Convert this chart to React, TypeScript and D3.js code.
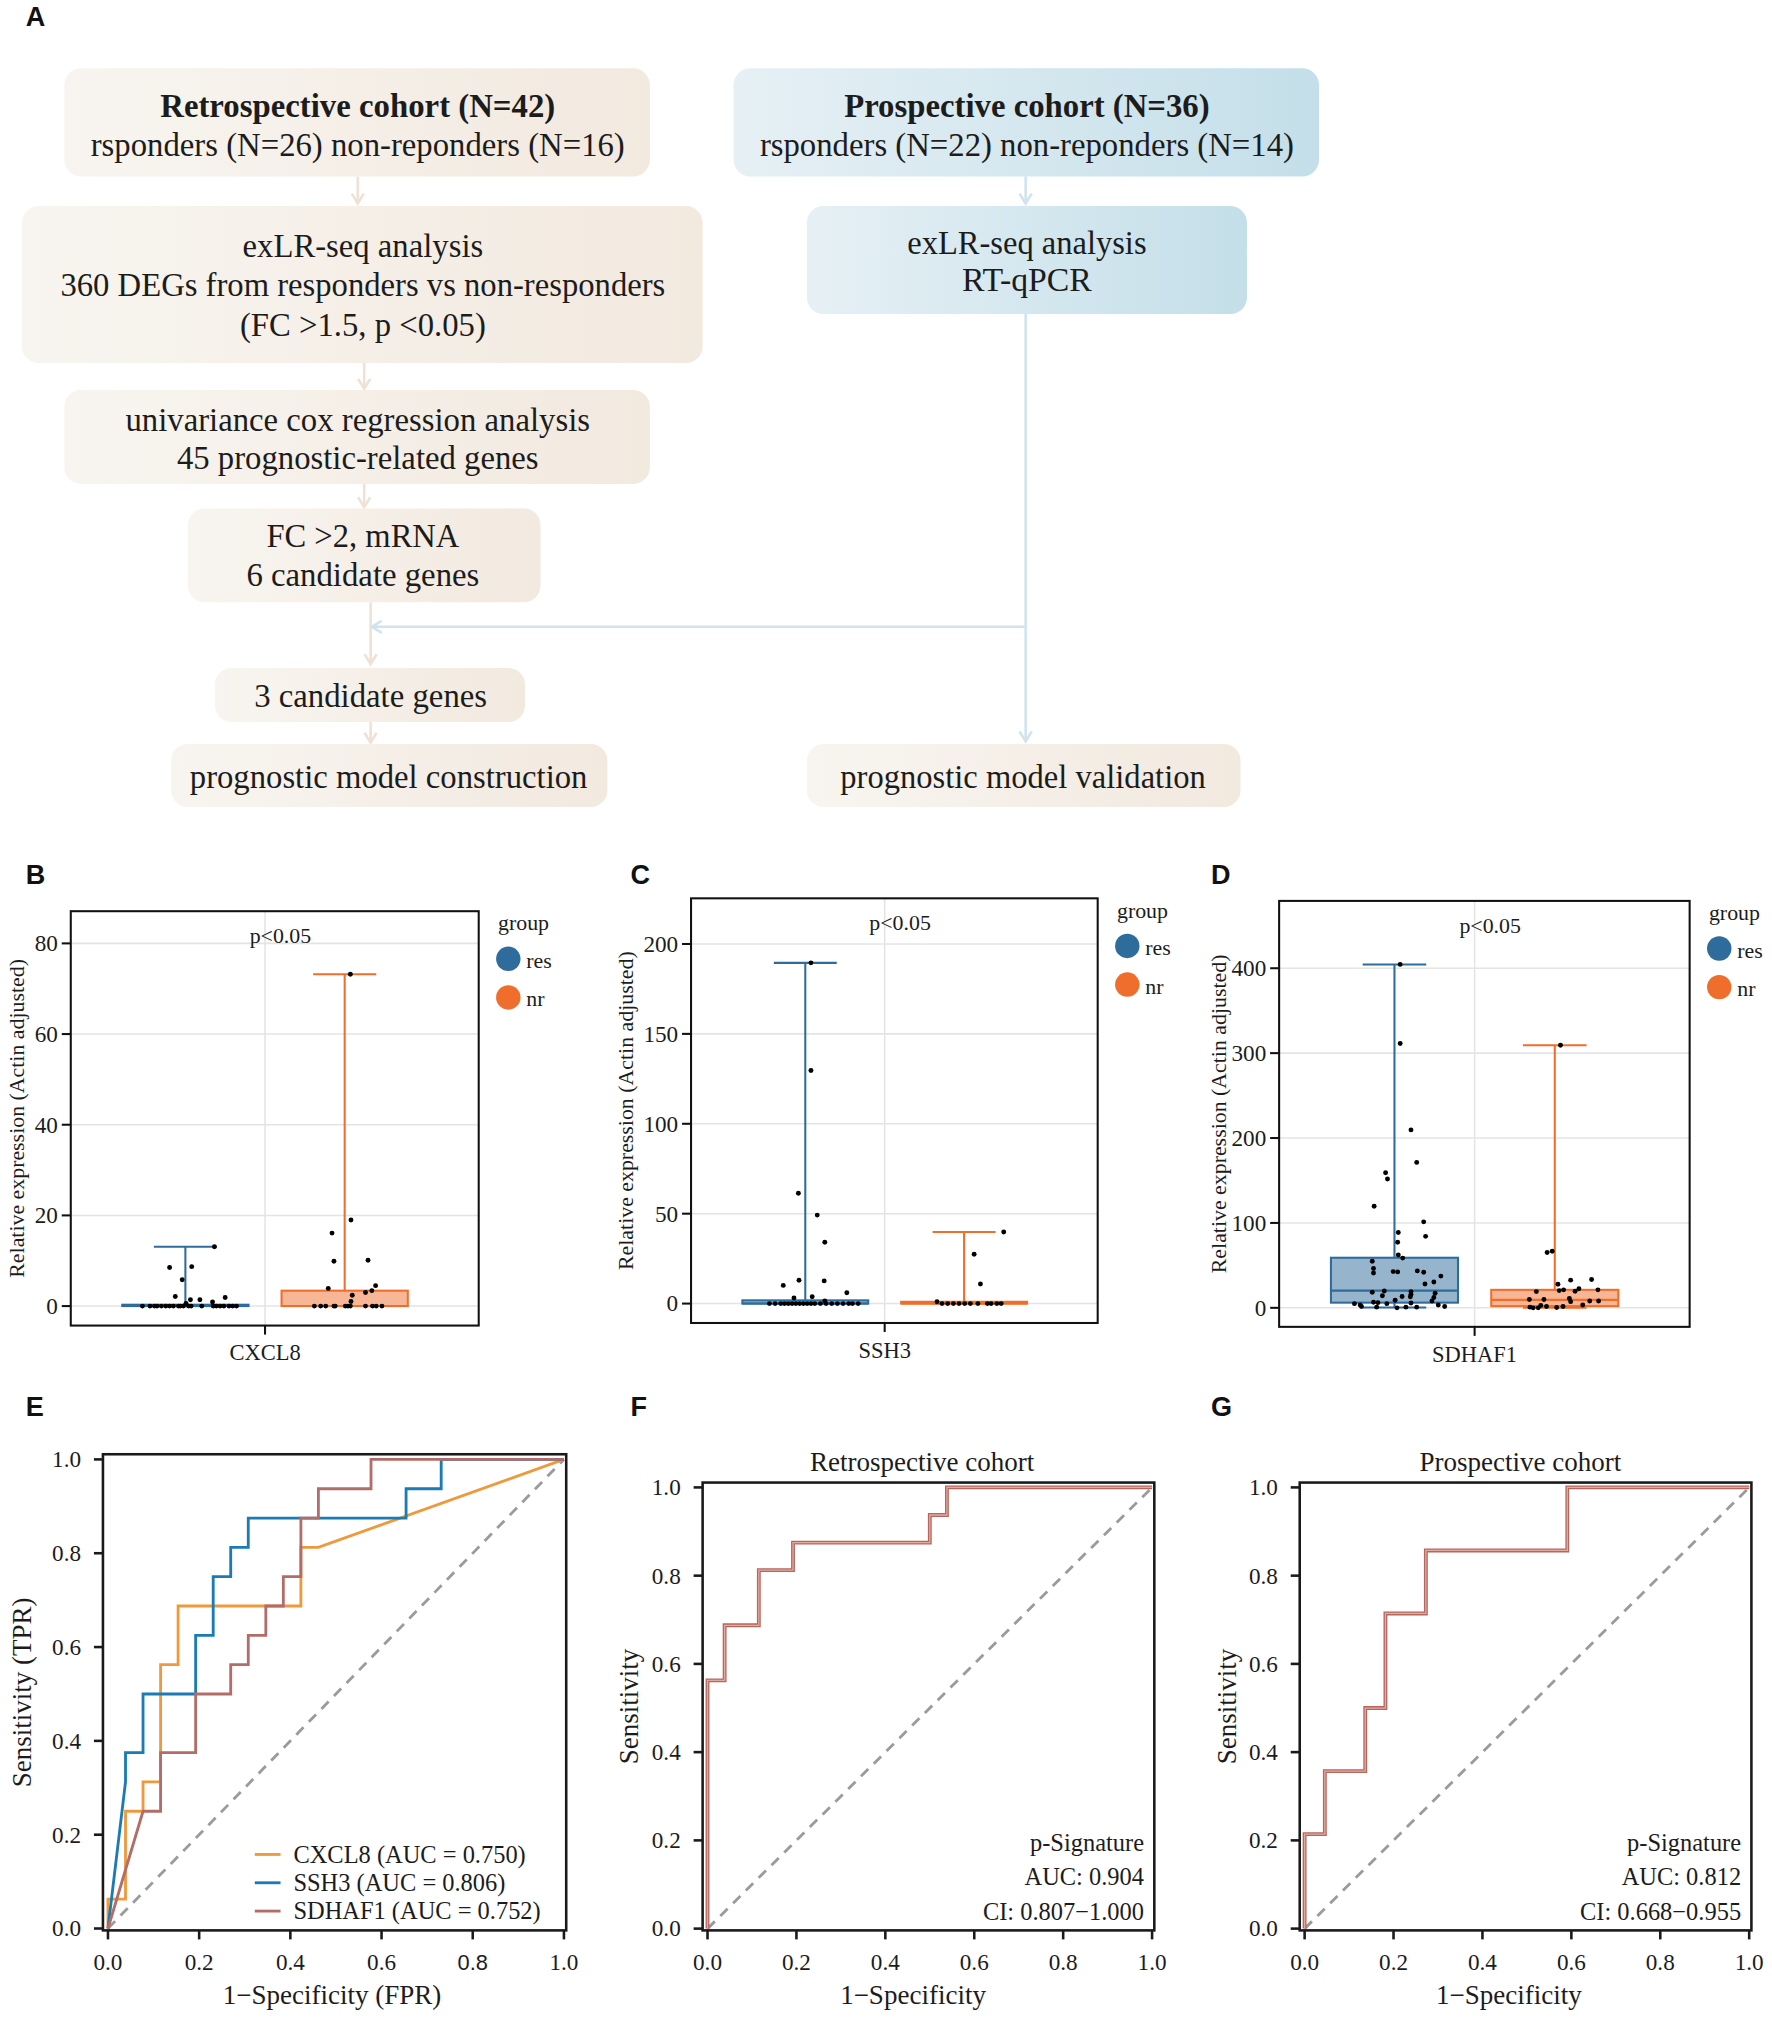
import { useEffect, useRef } from 'react';
import * as d3 from 'd3';

// ---------- panel A: flowchart ----------
type FlowLine = { text: string; bold?: boolean; width: number; base: number };
type FlowNode = { x: number; y: number; w: number; h: number; tone: 'beige' | 'blue'; cx: number; lines: FlowLine[] };

const flowNodes: FlowNode[] = [
  { x: 50, y: 53, w: 455, h: 84, tone: 'beige', cx: 278, lines: [
    { text: 'Retrospective cohort (N=42)', bold: true, width: 307, base: 91 },
    { text: 'rsponders (N=26) non-reponders (N=16)', width: 415, base: 121 }] },
  { x: 570, y: 53, w: 455, h: 84, tone: 'blue', cx: 798, lines: [
    { text: 'Prospective cohort (N=36)', bold: true, width: 284, base: 91 },
    { text: 'rsponders (N=22) non-reponders (N=14)', width: 415, base: 121 }] },
  { x: 17, y: 160, w: 529, h: 122, tone: 'beige', cx: 282, lines: [
    { text: 'exLR-seq analysis', width: 187, base: 200 },
    { text: '360 DEGs from responders vs non-responders', width: 470, base: 230 },
    { text: '(FC >1.5, p <0.05)', width: 191, base: 261 }] },
  { x: 627, y: 160, w: 342, h: 84, tone: 'blue', cx: 798, lines: [
    { text: 'exLR-seq analysis', width: 186, base: 197 },
    { text: 'RT-qPCR', width: 101, base: 226 }] },
  { x: 50, y: 303, w: 455, h: 73, tone: 'beige', cx: 278, lines: [
    { text: 'univariance cox regression analysis', width: 361, base: 335 },
    { text: '45 prognostic-related genes', width: 281, base: 364 }] },
  { x: 146, y: 395, w: 274, h: 73, tone: 'beige', cx: 282, lines: [
    { text: 'FC >2, mRNA', width: 150, base: 425 },
    { text: '6 candidate genes', width: 181, base: 455 }] },
  { x: 167, y: 519, w: 241, h: 42, tone: 'beige', cx: 288, lines: [
    { text: '3 candidate genes', width: 181, base: 549 }] },
  { x: 133, y: 578, w: 339, h: 49, tone: 'beige', cx: 302, lines: [
    { text: 'prognostic model construction', width: 309, base: 612 }] },
  { x: 627, y: 578, w: 337, h: 49, tone: 'beige', cx: 795, lines: [
    { text: 'prognostic model validation', width: 284, base: 612 }] },
];

// arrows: [x1, y1, x2, y2, tone]
const flowArrows: [number, number, number, number, 'beige' | 'blue'][] = [
  [278, 137, 278, 158, 'beige'],
  [797, 137, 797, 158, 'blue'],
  [283, 282, 283, 302, 'beige'],
  [283, 376, 283, 394, 'beige'],
  [288, 468, 288, 516, 'beige'],
  [288, 561, 288, 577, 'beige'],
  [797, 244, 797, 576, 'blue'],
  [797, 487, 289, 487, 'blue'],
];

// ---------- panels B-D: box plots ----------
const groups = ['res', 'nr'];
const groupColors = ['#2e6c9c', '#ef6e2b'];

// stats: [lower, q1, median, q3, upper]
const cxcl8Stats = [[0, 0, 0, 0.3, 13.1], [0, 0, 0, 3.4, 73.2]];
const ssh3Stats = [[0, 0, 0, 1.8, 189.5], [0, 0, 0, 1.0, 39.8]];
const sdhaf1Stats = [[0.5, 6.1, 20.3, 59.0, 404.5], [0, 2.0, 9.4, 21.2, 309.3]];

// points: [jitter (fraction of half box width), value]
const cxcl8Res = [
  [0.46, 13.1], [-0.25, 8.5], [0.1, 8.7], [-0.05, 5.8], [-0.16, 2.1], [0.08, 1.4], [0.23, 1.4], [0.43, 0.9], [0.63, 1.9], [0.01, 0.6],
  [-0.68, 0], [-0.56, 0], [-0.49, 0], [-0.45, 0], [-0.38, 0], [-0.31, 0], [-0.25, 0], [-0.19, 0], [-0.11, 0], [-0.08, 0], [-0.03, 0],
  [0.05, 0], [0.09, 0], [0.26, 0], [0.44, 0], [0.49, 0], [0.55, 0], [0.61, 0], [0.69, 0], [0.75, 0], [0.81, 0]];
const cxcl8Nr = [
  [0.09, 73.2], [0.1, 19.0], [-0.2, 16.1], [-0.17, 9.9], [0.37, 10.1], [-0.26, 3.9], [0.49, 4.5], [0.43, 3.4], [0.33, 3.0], [0.12, 2.4], [0.1, 1.0],
  [-0.48, 0], [-0.38, 0], [-0.3, 0], [-0.17, 0], [-0.15, 0], [0.01, 0], [0.05, 0], [0.09, 0], [0.33, 0], [0.44, 0], [0.5, 0], [0.59, 0]];
const ssh3Res = [
  [0.09, 189.5], [0.09, 129.6], [-0.11, 61.4], [0.19, 49.2], [0.31, 34.1], [-0.35, 10.1], [-0.1, 13.0], [0.3, 12.6], [0.66, 6.0],
  [-0.18, 3.1], [0.11, 3.8], [0.31, 1.5],
  [-0.57, 0], [-0.48, 0], [-0.39, 0], [-0.33, 0], [-0.27, 0], [-0.21, 0], [-0.15, 0], [-0.09, 0], [-0.03, 0], [0.03, 0],
  [0.09, 0], [0.15, 0], [0.24, 0], [0.33, 0], [0.42, 0], [0.51, 0], [0.6, 0], [0.69, 0], [0.75, 0], [0.84, 0]];
const ssh3Nr = [
  [0.63, 39.8], [0.16, 27.4], [0.26, 10.9], [-0.43, 1.0],
  [-0.35, 0], [-0.26, 0], [-0.17, 0], [-0.08, 0], [0.01, 0], [0.1, 0], [0.22, 0], [0.37, 0], [0.43, 0], [0.52, 0], [0.59, 0]];
const sdhaf1Res = [
  [0.09, 404.5], [0.09, 311.3], [0.26, 209.6], [0.35, 171.3], [-0.14, 159.1], [-0.11, 151.8], [-0.32, 119.6], [0.46, 101.3],
  [0.06, 88.7], [0.49, 84.2], [0.05, 77.3], [0.06, 62.3], [0.13, 58.6], [-0.35, 54.9], [-0.33, 46.4], [-0.33, 41.1], [-0.02, 42.7],
  [0.05, 42.3], [0.36, 43.5], [0.46, 41.9], [0.73, 37.4], [0.62, 30.5], [0.48, 28.1], [-0.35, 18.3], [-0.16, 19.9], [-0.19, 14.2],
  [0.12, 13.4], [0.26, 19.1], [0.26, 15.9], [0.25, 13.0], [0.64, 17.1], [0.62, 12.2], [0.59, 8.1], [-0.33, 6.5], [-0.26, 6.1],
  [0.01, 9.0], [0.26, 5.7], [-0.12, 4.9], [-0.63, 4.9], [-0.54, 3.3], [-0.52, 1.6], [-0.28, 0.8], [0.04, 0], [0.18, 0.8],
  [0.35, 0.8], [0.69, 3.3], [0.79, 1.6]];
const sdhaf1Nr = [
  [0.09, 309.3], [-0.04, 66.7], [-0.12, 65.1], [0.05, 27.7], [0.25, 32.6], [0.58, 33.4], [0.14, 21.2], [0.07, 20.3], [0.38, 22.4],
  [0.32, 19.5], [0.68, 21.2], [-0.29, 19.1], [-0.4, 9.8], [-0.17, 9.8], [0.23, 11.0], [0.25, 7.3], [0.55, 8.1], [0.69, 8.1],
  [0.44, 3.3], [-0.22, 2.8], [-0.13, 1.6], [-0.39, 0.8], [-0.34, 0], [-0.26, 0], [0.03, 0.4], [0.13, 1.6]];

const cxcl8Ticks = [0, 20, 40, 60, 80];
const ssh3Ticks = [0, 50, 100, 150, 200];
const sdhaf1Ticks = [0, 100, 200, 300, 400];

const boxPanels = [
  { letter: 'B', letterX: 20, gene: 'CXCL8', frame: [55, 708, 372, 1030], domain: [-4.3, 87.1], ticks: cxcl8Ticks, stats: cxcl8Stats, points: [cxcl8Res, cxcl8Nr], titleOff: 42 },
  { letter: 'C', letterX: 490, gene: 'SSH3', frame: [537, 698, 853, 1028], domain: [-10.8, 225.4], ticks: ssh3Ticks, stats: ssh3Stats, points: [ssh3Res, ssh3Nr], titleOff: 51 },
  { letter: 'D', letterX: 941, gene: 'SDHAF1', frame: [994, 700, 1313, 1031], domain: [-22.4, 479.3], ticks: sdhaf1Ticks, stats: sdhaf1Stats, points: [sdhaf1Res, sdhaf1Nr], titleOff: 47 },
];

// ---------- panels E-G: ROC curves ----------
const rocTicks = [0, 0.2, 0.4, 0.6, 0.8, 1.0];
const cxcl8Roc = [[0, 0], [0, 0.0625], [0.0385, 0.0625], [0.0385, 0.25], [0.0769, 0.25], [0.0769, 0.3125], [0.1154, 0.3125], [0.1154, 0.5625],
  [0.1538, 0.5625], [0.1538, 0.6875], [0.4231, 0.6875], [0.4231, 0.8125], [0.4615, 0.8125], [1, 1]];
const ssh3Roc = [[0, 0], [0.0385, 0.3125], [0.0385, 0.375], [0.0769, 0.375], [0.0769, 0.5], [0.1923, 0.5], [0.1923, 0.625], [0.2308, 0.625],
  [0.2308, 0.75], [0.2692, 0.75], [0.2692, 0.8125], [0.3077, 0.8125], [0.3077, 0.875], [0.6538, 0.875], [0.6538, 0.9375], [0.7308, 0.9375],
  [0.7308, 1], [1, 1]];
const sdhaf1Roc = [[0, 0], [0.0769, 0.25], [0.1154, 0.25], [0.1154, 0.375], [0.1923, 0.375], [0.1923, 0.5], [0.2692, 0.5], [0.2692, 0.5625],
  [0.3077, 0.5625], [0.3077, 0.625], [0.3462, 0.625], [0.3462, 0.6875], [0.3846, 0.6875], [0.3846, 0.75], [0.4231, 0.75], [0.4231, 0.875],
  [0.4615, 0.875], [0.4615, 0.9375], [0.5769, 0.9375], [0.5769, 1], [1, 1]];
const retroRoc = [[0, 0], [0, 0.5625], [0.0385, 0.5625], [0.0385, 0.6875], [0.1154, 0.6875], [0.1154, 0.8125], [0.1923, 0.8125], [0.1923, 0.875],
  [0.5, 0.875], [0.5, 0.9375], [0.5385, 0.9375], [0.5385, 1], [1, 1]];
const prospRoc = [[0, 0], [0, 0.2143], [0.0455, 0.2143], [0.0455, 0.3571], [0.1364, 0.3571], [0.1364, 0.5], [0.1818, 0.5], [0.1818, 0.7143],
  [0.2727, 0.7143], [0.2727, 0.8571], [0.5909, 0.8571], [0.5909, 1], [1, 1]];

const geneLegend = ['CXCL8 (AUC = 0.750)', 'SSH3 (AUC = 0.806)', 'SDHAF1 (AUC = 0.752)'];
const geneRocColors = ['#ee9a3c', '#1b7bb5', '#b36d68'];

const rocPanels = [
  { letter: 'E', letterX: 20, frame: [80, 1130, 440, 1500], curves: [cxcl8Roc, ssh3Roc, sdhaf1Roc], colors: geneRocColors, title: '',
    yTitle: 'Sensitivity (TPR)', xTitle: '1\u2212Specificity (FPR)', legend: geneLegend, notes: [] as string[], sansTick: 0.8,
    double: false, yTitleOff: 63, xTitleShift: -2, titleShift: 0 },
  { letter: 'F', letterX: 490, frame: [546, 1152, 897, 1500], curves: [retroRoc], colors: ['#b5675e'], title: 'Retrospective cohort',
    yTitle: 'Sensitivity', xTitle: '1\u2212Specificity', legend: [] as string[], notes: ['p-Signature', 'AUC: 0.904', 'CI: 0.807\u22121.000'],
    sansTick: -1, double: true, yTitleOff: 57, xTitleShift: -12, titleShift: -5 },
  { letter: 'G', letterX: 941, frame: [1010, 1152, 1361, 1500], curves: [prospRoc], colors: ['#b5675e'], title: 'Prospective cohort',
    yTitle: 'Sensitivity', xTitle: '1\u2212Specificity', legend: [] as string[], notes: ['p-Signature', 'AUC: 0.812', 'CI: 0.668\u22120.955'],
    sansTick: -1, double: true, yTitleOff: 57, xTitleShift: -13, titleShift: -4 },
];

const SERIF = '"Liberation Serif", "Times New Roman", serif';
const SANS = '"Liberation Sans", Arial, sans-serif';
const INK = '#1c1c1c';

type Svg = d3.Selection<SVGSVGElement, unknown, null, undefined>;

function drawFlow(svg: Svg) {
  const defs = svg.append('defs');
  const beige = defs.append('linearGradient').attr('id', 'gBeige').attr('x1', '0').attr('x2', '1').attr('y1', '0').attr('y2', '0');
  beige.append('stop').attr('offset', '0%').attr('stop-color', '#f8f5f0');
  beige.append('stop').attr('offset', '100%').attr('stop-color', '#f2e9df');
  const blue = defs.append('linearGradient').attr('id', 'gBlue').attr('x1', '0').attr('x2', '1').attr('y1', '0').attr('y2', '0');
  blue.append('stop').attr('offset', '0%').attr('stop-color', '#e6f0f5');
  blue.append('stop').attr('offset', '100%').attr('stop-color', '#c4dfe9');

  const g = svg.append('g');
  g.append('text').attr('x', 20).attr('y', 20).attr('font-family', SANS).attr('font-weight', 'bold')
    .attr('font-size', 21).attr('fill', '#111').text('A');

  const lineColor = { beige: '#efe1d4', blue: '#cfe4ee' };
  flowArrows.forEach(([x1, y1, x2, y2, tone]) => {
    g.append('line').attr('x1', x1).attr('y1', y1).attr('x2', x2).attr('y2', y2)
      .attr('stroke', lineColor[tone]).attr('stroke-width', 2);
    const ang = Math.atan2(y2 - y1, x2 - x1);
    const L = 9, W = 0.55;
    const p1 = [x2 - L * Math.cos(ang - W), y2 - L * Math.sin(ang - W)];
    const p2 = [x2 - L * Math.cos(ang + W), y2 - L * Math.sin(ang + W)];
    g.append('path').attr('d', `M${p1[0]},${p1[1]}L${x2},${y2}L${p2[0]},${p2[1]}`)
      .attr('fill', 'none').attr('stroke', lineColor[tone]).attr('stroke-width', 2);
  });

  flowNodes.forEach(n => {
    g.append('rect').attr('x', n.x).attr('y', n.y).attr('width', n.w).attr('height', n.h).attr('rx', 13)
      .attr('fill', n.tone === 'beige' ? 'url(#gBeige)' : 'url(#gBlue)');
    n.lines.forEach(l => {
      g.append('text').attr('x', n.cx).attr('y', l.base).attr('text-anchor', 'middle')
        .attr('font-family', SERIF).attr('font-size', 26).attr('font-weight', l.bold ? 'bold' : 'normal')
        .attr('fill', INK).attr('textLength', l.width).attr('lengthAdjust', 'spacingAndGlyphs').text(l.text);
    });
  });
}

function drawBoxPanel(svg: Svg, p: typeof boxPanels[0]) {
  const [l, t, r, b] = p.frame;
  const x = d3.scaleLinear().domain([-1, 1.1]).range([l, r]);
  const y = d3.scaleLinear().domain(p.domain).range([b, t]);
  const groupPos = [-0.41, 0.41];
  const boxHalf = 0.325;
  const g = svg.append('g');

  g.append('text').attr('x', p.letterX).attr('y', 687).attr('font-family', SANS).attr('font-weight', 'bold')
    .attr('font-size', 21).attr('fill', '#111').text(p.letter);

  // grid
  p.ticks.forEach(v => {
    g.append('line').attr('x1', l).attr('x2', r).attr('y1', y(v)).attr('y2', y(v)).attr('stroke', '#e4e4e4').attr('stroke-width', 1.2);
  });
  g.append('line').attr('x1', x(0)).attr('x2', x(0)).attr('y1', t).attr('y2', b).attr('stroke', '#e4e4e4').attr('stroke-width', 1.2);

  const hw = x(boxHalf) - x(0);
  groups.forEach((_, i) => {
    const [lo, q1, med, q3, hi] = p.stats[i];
    const cx = x(groupPos[i]);
    const col = groupColors[i];
    g.append('line').attr('x1', cx).attr('x2', cx).attr('y1', y(hi)).attr('y2', y(q3)).attr('stroke', col).attr('stroke-width', 1.6);
    g.append('line').attr('x1', cx).attr('x2', cx).attr('y1', y(q1)).attr('y2', y(lo)).attr('stroke', col).attr('stroke-width', 1.6);
    [lo, hi].forEach(v => {
      g.append('line').attr('x1', cx - hw / 2).attr('x2', cx + hw / 2).attr('y1', y(v)).attr('y2', y(v))
        .attr('stroke', col).attr('stroke-width', 1.6);
    });
    g.append('rect').attr('x', cx - hw).attr('width', 2 * hw).attr('y', y(q3)).attr('height', Math.max(0, y(q1) - y(q3)))
      .attr('fill', col).attr('fill-opacity', 0.5).attr('stroke', col).attr('stroke-width', 1.6);
    g.append('line').attr('x1', cx - hw).attr('x2', cx + hw).attr('y1', y(med)).attr('y2', y(med))
      .attr('stroke', col).attr('stroke-width', 1.6);
  });
  groups.forEach((_, i) => {
    const cx = groupPos[i];
    p.points[i].forEach(([j, v]) => {
      g.append('circle').attr('cx', x(cx + j * boxHalf)).attr('cy', y(v)).attr('r', 1.9).attr('fill', '#000');
    });
  });

  // frame
  g.append('rect').attr('x', l).attr('y', t).attr('width', r - l).attr('height', b - t)
    .attr('fill', 'none').attr('stroke', '#111').attr('stroke-width', 1.6);

  // y axis
  p.ticks.forEach(v => {
    g.append('line').attr('x1', l - 7).attr('x2', l).attr('y1', y(v)).attr('y2', y(v)).attr('stroke', '#111').attr('stroke-width', 1.6);
    g.append('text').attr('x', l - 10).attr('y', y(v)).attr('dy', '0.34em').attr('text-anchor', 'end')
      .attr('font-family', SERIF).attr('font-size', 18).attr('fill', INK).text(v);
  });
  // x axis
  g.append('line').attr('x1', x(0)).attr('x2', x(0)).attr('y1', b).attr('y2', b + 7).attr('stroke', '#111').attr('stroke-width', 1.6);
  g.append('text').attr('x', x(0)).attr('y', b + 27).attr('text-anchor', 'middle')
    .attr('font-family', SERIF).attr('font-size', 17.5).attr('fill', INK).text(p.gene);
  g.append('text').attr('transform', `translate(${l - p.titleOff},${(t + b) / 2}) rotate(-90)`).attr('dy', '0.34em')
    .attr('text-anchor', 'middle').attr('font-family', SERIF).attr('font-size', 17).attr('fill', INK)
    .text('Relative expression (Actin adjusted)');
  g.append('text').attr('x', l + 0.514 * (r - l)).attr('y', t + 25).attr('text-anchor', 'middle')
    .attr('font-family', SERIF).attr('font-size', 17).attr('fill', INK).text('p<0.05');

  // legend
  const lx = r + 15;
  g.append('text').attr('x', lx).attr('y', t + 15).attr('font-family', SERIF).attr('font-size', 17).attr('fill', INK).text('group');
  groups.forEach((name, i) => {
    const cy = t + 37 + i * 30;
    g.append('circle').attr('cx', lx + 8).attr('cy', cy).attr('r', 9.5).attr('fill', groupColors[i]);
    g.append('text').attr('x', lx + 22).attr('y', cy + 7).attr('font-family', SERIF).attr('font-size', 17).attr('fill', INK).text(name);
  });
}

function drawRocPanel(svg: Svg, p: typeof rocPanels[0]) {
  const [l, t, r, b] = p.frame;
  const x = d3.scaleLinear().domain([-0.011, 1.005]).range([l, r]);
  const y = d3.scaleLinear().domain([-0.004, 1.011]).range([b, t]);
  const g = svg.append('g');
  const fmt = d3.format('.1f');

  g.append('text').attr('x', p.letterX).attr('y', 1100).attr('font-family', SANS).attr('font-weight', 'bold')
    .attr('font-size', 21).attr('fill', '#111').text(p.letter);

  if (p.title) {
    g.append('text').attr('x', (l + r) / 2 + p.titleShift).attr('y', t - 9).attr('text-anchor', 'middle')
      .attr('font-family', SERIF).attr('font-size', 21).attr('fill', INK).text(p.title);
  }

  g.append('line').attr('x1', x(0)).attr('y1', y(0)).attr('x2', x(1)).attr('y2', y(1))
    .attr('stroke', '#9b9b9b').attr('stroke-width', 2.2).attr('stroke-dasharray', '8,6');

  const line = d3.line<number[]>().x(d => x(d[0])).y(d => y(d[1]));
  p.curves.forEach((c, i) => {
    g.append('path').datum(c).attr('d', line).attr('fill', 'none').attr('stroke', p.colors[i])
      .attr('stroke-width', p.double ? 3 : 2.2).attr('stroke-linejoin', 'miter');
    if (p.double) {
      g.append('path').datum(c).attr('d', line).attr('fill', 'none').attr('stroke', '#e3aaa2').attr('stroke-width', 1);
    }
  });

  g.append('rect').attr('x', l).attr('y', t).attr('width', r - l).attr('height', b - t)
    .attr('fill', 'none').attr('stroke', '#1a1a1a').attr('stroke-width', 2);

  rocTicks.forEach(v => {
    g.append('line').attr('x1', l - 7).attr('x2', l).attr('y1', y(v)).attr('y2', y(v)).attr('stroke', '#1a1a1a').attr('stroke-width', 2);
    g.append('text').attr('x', l - 17).attr('y', y(v)).attr('dy', '0.34em').attr('text-anchor', 'end')
      .attr('font-family', SERIF).attr('font-size', 18).attr('fill', INK).text(fmt(v));
    g.append('line').attr('x1', x(v)).attr('x2', x(v)).attr('y1', b).attr('y2', b + 7).attr('stroke', '#1a1a1a').attr('stroke-width', 2);
    const sans = Math.abs(v - p.sansTick) < 1e-6;
    g.append('text').attr('x', x(v)).attr('y', b + 31).attr('text-anchor', 'middle')
      .attr('font-family', sans ? SANS : SERIF).attr('font-size', sans ? 17 : 18).attr('fill', INK).text(fmt(v));
  });

  g.append('text').attr('x', (l + r) / 2 + p.xTitleShift).attr('y', b + 57).attr('text-anchor', 'middle')
    .attr('font-family', SERIF).attr('font-size', 21).attr('fill', INK).text(p.xTitle);
  g.append('text').attr('transform', `translate(${l - p.yTitleOff},${(t + b) / 2}) rotate(-90)`).attr('dy', '0.34em')
    .attr('text-anchor', 'middle').attr('font-family', SERIF).attr('font-size', 21).attr('fill', INK).text(p.yTitle);

  p.legend.forEach((name, i) => {
    const cy = b - 59 + i * 22;
    g.append('line').attr('x1', l + 118).attr('x2', l + 138).attr('y1', cy).attr('y2', cy)
      .attr('stroke', p.colors[i]).attr('stroke-width', 2.2);
    g.append('text').attr('x', l + 148).attr('y', cy).attr('dy', '0.34em')
      .attr('font-family', SERIF).attr('font-size', 19).attr('fill', INK).text(name);
  });

  p.notes.forEach((txt, i) => {
    g.append('text').attr('x', r - 8).attr('y', b - 62 + i * 27).attr('text-anchor', 'end')
      .attr('font-family', SERIF).attr('font-size', 19).attr('fill', INK).text(txt);
  });
}

export default function App() {
  const svgRef = useRef<SVGSVGElement>(null);

  useEffect(() => {
    if (!svgRef.current) return;
    const svg = d3.select(svgRef.current);
    svg.selectAll('*').remove();
    drawFlow(svg);
    boxPanels.forEach(p => drawBoxPanel(svg, p));
    rocPanels.forEach(p => drawRocPanel(svg, p));
  }, []);

  return (
    <div style={{ position: 'absolute', left: 0, top: 0, background: '#fff' }}>
      <svg ref={svgRef} width={1772} height={2018} viewBox="0 0 1377 1568" style={{ display: 'block' }} />
    </div>
  );
}
